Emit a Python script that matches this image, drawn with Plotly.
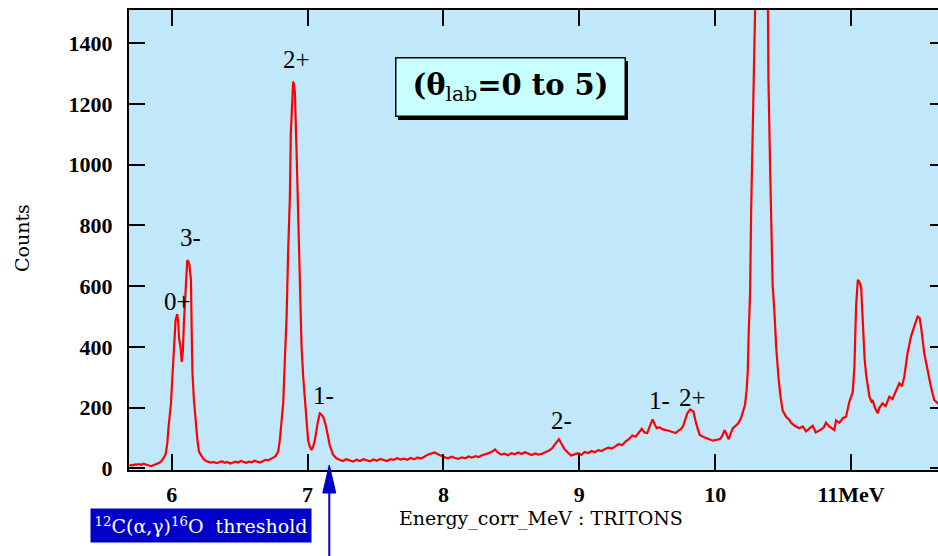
import plotly.graph_objects as go

# ---- spectrum ----
energy_mev = [
    5.69, 5.70, 5.71, 5.72, 5.73, 5.745, 5.76, 5.775, 5.79, 5.805, 5.82, 5.835, 5.85, 5.865, 5.88, 5.895,
    5.91, 5.925, 5.94, 5.956, 5.968, 5.975, 5.985, 5.995, 6.004, 6.017, 6.029, 6.041, 6.049, 6.054, 6.066,
    6.074, 6.083, 6.090, 6.103, 6.109, 6.115, 6.124, 6.131, 6.137, 6.142, 6.147, 6.153, 6.164, 6.176, 6.190,
    6.201, 6.215, 6.230, 6.252,
    6.27, 6.29, 6.31, 6.33, 6.35, 6.37, 6.39, 6.41, 6.43, 6.45, 6.47, 6.49, 6.51, 6.53, 6.55, 6.57, 6.59,
    6.61, 6.63, 6.65, 6.67, 6.69, 6.71, 6.73, 6.75,
    6.765, 6.784, 6.796, 6.809, 6.821, 6.833, 6.846, 6.857, 6.870, 6.877, 6.887, 6.894, 6.900, 6.907, 6.919,
    6.931, 6.938, 6.949, 6.956, 6.968, 6.980, 6.993, 7.004, 7.016, 7.029, 7.041, 7.054, 7.074, 7.090, 7.100,
    7.115, 7.135, 7.151, 7.164, 7.188, 7.213,
    7.235, 7.26, 7.285, 7.31, 7.335, 7.36, 7.385, 7.41, 7.435, 7.46, 7.485, 7.51, 7.535, 7.56, 7.585, 7.61,
    7.635, 7.66, 7.685, 7.71, 7.735, 7.76, 7.785, 7.81, 7.835, 7.86, 7.885, 7.91, 7.935, 7.96, 7.985,
    8.01, 8.035, 8.06, 8.085, 8.11, 8.135, 8.16, 8.185, 8.21, 8.235, 8.26, 8.285, 8.31, 8.335, 8.36, 8.38,
    8.40, 8.425, 8.45, 8.475, 8.50, 8.525, 8.55, 8.575, 8.60, 8.625, 8.65, 8.675, 8.70, 8.725, 8.75, 8.775,
    8.80, 8.825, 8.85, 8.87, 8.89, 8.915, 8.94, 8.965,
    8.99, 9.015, 9.04, 9.065, 9.09, 9.115, 9.14, 9.165, 9.19, 9.215, 9.24, 9.265, 9.29, 9.315, 9.34, 9.365,
    9.39, 9.415, 9.44, 9.46, 9.48, 9.50, 9.52, 9.54, 9.555, 9.57, 9.59, 9.615, 9.64, 9.665, 9.69, 9.71,
    9.73, 9.75, 9.765, 9.78, 9.795, 9.816, 9.84, 9.86, 9.886, 9.91, 9.935, 9.96, 9.984, 10.01, 10.034,
    10.05, 10.07, 10.085, 10.10, 10.115, 10.13, 10.15, 10.17, 10.19, 10.205, 10.22, 10.232, 10.240, 10.247,
    10.257, 10.265, 10.277, 10.289, 10.30, 10.326, 10.355, 10.377, 10.387, 10.392, 10.404, 10.412, 10.423,
    10.436, 10.449, 10.466, 10.481, 10.497, 10.522, 10.545, 10.559, 10.585, 10.62, 10.645, 10.669, 10.69,
    10.718, 10.74, 10.754, 10.78, 10.80, 10.816, 10.84, 10.86, 10.877, 10.89, 10.914, 10.94, 10.963, 10.988,
    11.012, 11.025, 11.037, 11.050, 11.060, 11.074, 11.086, 11.10, 11.110, 11.125, 11.135, 11.15, 11.159,
    11.175, 11.196, 11.21, 11.232, 11.255, 11.282, 11.305, 11.331, 11.355, 11.375, 11.392, 11.416, 11.441,
    11.465, 11.480, 11.490, 11.505, 11.515, 11.539, 11.563, 11.588, 11.612, 11.634, 11.66,
]
counts = [
    12, 9, 11, 10, 13, 12, 14, 11, 15, 13, 12, 8, 7, 10, 12, 15,
    18, 24, 33, 47, 83, 126, 170, 215, 291, 400, 489, 508, 478, 430, 397,
    351, 390, 478, 588, 665, 686, 680, 670, 640, 621, 467, 313, 225, 160, 90,
    55, 42, 33, 24,
    22, 19, 21, 17, 20, 23, 18, 21, 16, 20, 22, 19, 24, 21, 18, 22, 20,
    25, 21, 19, 23, 28, 26, 30, 36,
    40, 55, 93, 150, 214, 357, 500, 709, 895, 1105, 1225, 1274, 1265, 1236, 1049,
    851, 697, 522, 401, 302, 236, 148, 93, 72, 60, 70, 93, 148, 181, 178,
    170, 140, 100, 75, 45, 33,
    28, 24, 30, 25, 22, 28, 24, 30, 26, 23, 29, 25, 31, 27, 24, 30,
    28, 33, 29, 32, 28, 34, 30, 36, 32, 38, 45, 49, 52, 46, 40,
    36, 33, 38, 34, 31, 36, 33, 39, 35, 40, 37, 43, 46, 50, 55, 62,
    52, 45, 48, 43, 50, 46, 52, 47, 53, 48, 44, 49, 45, 48, 53, 58,
    66, 80, 96, 80, 64, 52, 42, 46,
    50, 44, 54, 50, 57, 53, 60, 57, 64, 68, 65, 72, 80, 76, 88, 96,
    108, 104, 120, 130, 118, 116, 140, 161, 145, 132, 135, 128, 126, 122, 118, 116,
    124, 130, 140, 165, 181, 194, 187, 148, 110, 104, 99, 94, 91, 94, 96,
    105, 126, 110, 96, 115, 132, 140, 148, 165, 185, 209, 260, 320, 450,
    577, 851, 1126, 1489, 2200, 2800, 2900, 2300, 1700, 1286, 1000, 791, 604,
    516, 400, 300, 235, 190, 170, 160, 150, 140, 132, 138, 122, 130,
    140, 118, 121, 128, 135, 150, 138, 130, 126, 158, 150, 165, 170, 220,
    250, 335, 533, 621, 615, 599, 467, 360, 313, 260, 236, 220, 225,
    200, 181, 200, 214, 205, 236, 228, 258, 280, 270, 302, 379, 434,
    467, 490, 500, 495, 467, 379, 324, 269, 225, 215, 205,
]

# ---- axes ----
x_tick_vals = [6, 7, 8, 9, 10, 11]
x_tick_text = ["6", "7", "8", "9", "10", "11MeV"]
y_tick_vals = [0, 200, 400, 600, 800, 1000, 1200, 1400]
x_range = [5.686, 11.64]
y_range = [-5.6, 1510]

# ---- peak labels ----
label_text = ["2+", "3-", "0+", "1-", "2-", "1-", "2+"]
label_x = [6.921, 6.135, 6.046, 7.12, 8.87, 9.59, 9.834]
label_y = [1346, 762, 548, 241, 156, 222, 232]

THRESHOLD_MEV = 7.16

BG = "#c0e8fa"
SERIF = "Liberation Serif"
WIDE_SERIF = "DejaVu Serif"

W, H = 938, 556
ML, MR, MT, MB = 129, 0, 10, 86
PW, PH = W - ML - MR, H - MT - MB


def px_x(p):
    return (p - ML) / PW


def px_y(p):
    return (H - MB - p) / PH


fig = go.Figure()
fig.add_trace(go.Scatter(x=energy_mev, y=counts, mode="lines",
                         line=dict(color="#ff0000", width=2.2), showlegend=False,
                         hoverinfo="skip"))
fig.add_trace(go.Scatter(x=[None], y=[None], yaxis="y2", showlegend=False, hoverinfo="skip"))

fig.update_layout(
    width=W, height=H,
    margin=dict(l=ML, r=MR, t=MT, b=MB),
    paper_bgcolor="white", plot_bgcolor=BG,
    font=dict(family=SERIF, color="black"),
    xaxis=dict(range=x_range, tickvals=x_tick_vals, ticktext=x_tick_text,
               ticks="inside", ticklen=16, tickwidth=2, tickcolor="black",
               showline=True, linecolor="black", linewidth=2, mirror="ticks",
               showgrid=False, zeroline=False,
               tickfont=dict(family=SERIF, size=22, weight="bold"),
               ticklabelstandoff=4),
    yaxis=dict(range=y_range, tickvals=y_tick_vals,
               ticks="inside", ticklen=16, tickwidth=2, tickcolor="black",
               showline=True, linecolor="black", linewidth=2, mirror=False,
               showgrid=False, zeroline=False,
               tickfont=dict(family=SERIF, size=22, weight="bold"),
               ticklabelstandoff=10),
    yaxis2=dict(range=y_range, tickvals=y_tick_vals, overlaying="y", side="right",
                ticks="inside", ticklen=8, tickwidth=2, tickcolor="black",
                showticklabels=False, showline=False, showgrid=False, zeroline=False),
)

# axis titles
fig.add_annotation(text="Energy_corr_MeV : TRITONS", xref="paper", yref="paper",
                   x=px_x(541), y=px_y(518), xanchor="center", yanchor="middle",
                   showarrow=False, font=dict(family=WIDE_SERIF, size=19))
fig.add_annotation(text="Counts", xref="paper", yref="paper", textangle=-90,
                   x=px_x(22), y=px_y(238), xanchor="center", yanchor="middle",
                   showarrow=False, font=dict(family=WIDE_SERIF, size=19))

# peak labels
for t, lx, ly in zip(label_text, label_x, label_y):
    fig.add_annotation(text=t, x=lx, y=ly, showarrow=False,
                       font=dict(family=SERIF, size=25))

# angle box: shadow rectangle + framed text
fig.add_shape(type="rect", xref="paper", yref="paper",
              x0=px_x(398), x1=px_x(628), y0=px_y(120), y1=px_y(61),
              fillcolor="black", line=dict(color="black", width=0), layer="above")
fig.add_annotation(text="<b>(θ</b><sub>lab</sub><b>=0 to 5)</b>", xref="paper", yref="paper",
                   x=px_x(510), y=px_y(87.5), xanchor="center", yanchor="middle",
                   showarrow=False, font=dict(family=WIDE_SERIF, size=29, color="black"),
                   bgcolor="#c8ffff", bordercolor="black", borderwidth=1.5, borderpad=2,
                   width=224, height=53)

# threshold label
fig.add_annotation(text="<sup>12</sup>C(α,γ)<sup>16</sup>O  threshold", xref="paper", yref="paper",
                   x=px_x(201), y=px_y(525.5), xanchor="center", yanchor="middle",
                   showarrow=False, font=dict(family=WIDE_SERIF, size=19, color="white"),
                   bgcolor="#0000c8", borderpad=2, width=216, height=29)

# threshold arrow
fig.add_shape(type="line", xref="x", yref="paper", x0=THRESHOLD_MEV, x1=THRESHOLD_MEV,
              y0=px_y(620), y1=px_y(490), line=dict(color="#0000c8", width=2), layer="above")
fig.add_shape(type="path", xref="x", yref="paper", xsizemode="pixel", ysizemode="pixel",
              xanchor=THRESHOLD_MEV, yanchor=px_y(465),
              path="M0,0 L-6.5,-28 L6.5,-28 Z", fillcolor="#0000c8",
              line=dict(color="#0000c8", width=1), layer="above")

fig.write_html("out.html", config={"displayModeBar": False},
               post_script="document.body.style.margin='0';")
